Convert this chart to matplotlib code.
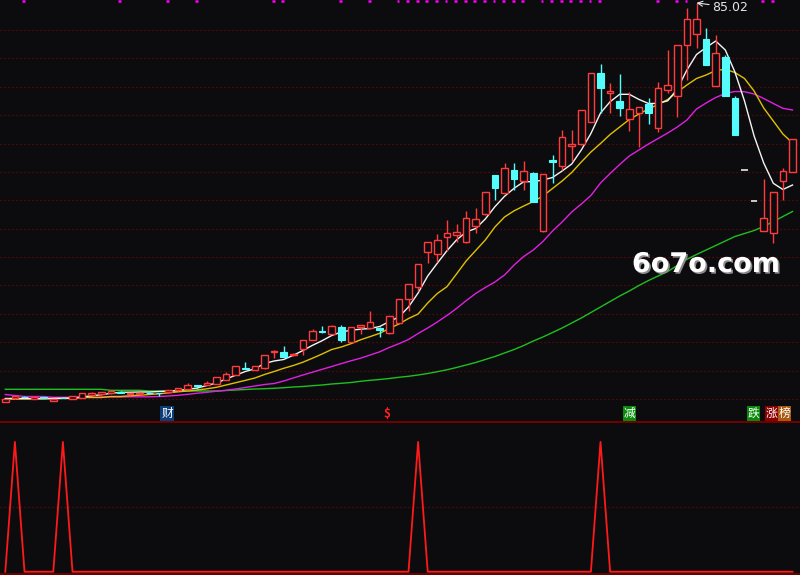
import numpy as np
import matplotlib
matplotlib.use("Agg")
import matplotlib.pyplot as plt
from matplotlib.lines import Line2D
import matplotlib.patheffects as pe

# ---------------- data ----------------
open_ = [5.26, 5.94, 6.28, 5.90, 6.20, 5.46, 6.10, 5.86, 6.06, 6.66,
         6.74, 6.94, 7.30, 6.74, 6.90, 7.10, 7.00, 7.20, 7.60, 7.86,
         8.56, 8.66, 8.86, 9.60, 10.66, 12.10, 11.70, 11.94, 15.14, 15.26,
         14.54, 15.86, 17.66, 19.34, 18.86, 20.20, 17.26, 20.26, 19.94, 20.06,
         18.94, 20.94, 25.74, 28.26, 35.14, 34.74, 38.14, 38.54, 37.14, 40.34,
         42.74, 50.54, 47.06, 51.60, 49.40, 50.94, 39.34, 53.60, 52.50, 56.46,
         56.74, 61.26, 71.06, 66.94, 65.40, 61.74, 62.94, 64.74, 59.94, 67.60,
         66.46, 76.54, 78.80, 77.80, 68.46, 74.14, 66.06, 51.54, 45.34, 39.46,
         38.94, 49.46, 51.26]
high = [5.80, 6.50, 6.35, 6.30, 6.25, 5.80, 6.20, 6.45, 7.05, 7.15,
        7.20, 7.50, 7.46, 7.00, 7.15, 7.20, 7.02, 7.60, 8.05, 8.94,
        8.60, 9.40, 10.20, 11.20, 12.40, 13.20, 12.40, 14.60, 15.60, 16.40,
        14.94, 17.60, 19.80, 20.40, 20.60, 20.60, 20.30, 20.65, 23.40, 20.26,
        22.45, 25.80, 28.80, 32.80, 37.25, 38.74, 41.60, 40.80, 43.34, 43.94,
        47.20, 50.60, 53.06, 53.06, 53.40, 51.20, 50.80, 54.60, 59.60, 59.60,
        63.65, 71.00, 72.80, 69.06, 70.80, 67.26, 64.30, 66.00, 69.14, 75.60,
        76.60, 84.00, 85.02, 79.94, 78.60, 74.60, 66.40, 51.54, 45.34, 49.80,
        47.20, 52.00, 57.80]
low = [5.20, 5.90, 6.05, 5.85, 5.95, 5.40, 5.95, 5.80, 6.00, 6.60,
       6.70, 6.90, 6.95, 6.70, 6.85, 6.90, 6.46, 7.00, 7.40, 7.80,
       7.74, 8.60, 8.80, 9.55, 10.60, 11.74, 11.65, 11.90, 14.06, 14.20,
       14.50, 14.54, 17.60, 18.94, 18.80, 17.26, 17.20, 18.74, 19.90, 18.26,
       18.90, 20.90, 23.46, 27.46, 32.94, 33.26, 35.40, 37.14, 37.10, 39.06,
       42.70, 45.60, 47.00, 47.60, 47.60, 45.20, 39.30, 49.06, 51.60, 53.40,
       56.70, 61.20, 62.94, 63.06, 62.40, 59.46, 56.26, 60.80, 59.26, 66.94,
       62.26, 69.60, 75.94, 72.55, 68.40, 66.35, 58.55, 51.54, 45.34, 39.40,
       37.06, 45.60, 51.20]
close = [5.80, 6.46, 6.12, 6.20, 6.00, 5.74, 6.00, 6.40, 7.00, 7.06,
         7.14, 7.46, 7.00, 6.94, 7.10, 6.94, 6.96, 7.54, 8.00, 8.60,
         8.50, 9.00, 10.14, 10.80, 12.34, 11.80, 12.34, 14.54, 15.40, 14.26,
         14.80, 17.54, 19.34, 19.14, 20.40, 17.60, 20.26, 20.60, 21.20, 19.60,
         22.40, 25.74, 28.74, 32.74, 37.20, 37.54, 38.94, 39.20, 41.94, 41.74,
         47.14, 48.00, 51.94, 49.80, 51.34, 45.26, 50.74, 53.26, 58.30, 56.80,
         63.60, 70.94, 68.06, 67.40, 64.06, 63.74, 64.26, 62.94, 67.94, 68.54,
         76.54, 81.80, 81.80, 72.60, 74.94, 66.40, 58.60, 51.54, 45.34, 41.94,
         47.14, 51.34, 57.74]

ma5 = [5.90, 5.90, 5.90, 5.90, 5.90, 5.90, 5.94, 6.00, 6.20, 6.44,
       6.66, 6.94, 7.14, 7.16, 7.20, 7.20, 7.30, 7.40, 7.50, 7.74,
       8.00, 8.50, 9.00, 9.80, 10.56, 11.30, 11.84, 12.90, 13.40, 13.70,
       14.54, 15.50, 16.54, 17.46, 18.50, 19.20, 19.56, 19.76, 19.90, 20.30,
       21.30, 22.20, 24.20, 27.00, 30.40, 32.96, 35.44, 37.60, 39.20, 39.90,
       41.80, 44.26, 46.34, 47.94, 49.26, 49.26, 49.60, 50.10, 51.40, 52.80,
       55.60, 58.90, 63.00, 65.26, 66.74, 66.74, 65.72, 64.90, 64.92, 65.44,
       67.80, 71.60, 74.70, 76.10, 77.40, 75.60, 71.20, 65.40, 58.40, 53.00,
       48.94, 47.70, 48.60]
ma10 = [5.80, 5.80, 5.80, 5.80, 5.80, 5.90, 5.90, 5.90, 6.10, 6.10,
        6.10, 6.30, 6.30, 6.44, 6.56, 6.70, 6.84, 7.04, 7.24, 7.40,
        7.60, 7.84, 8.14, 8.60, 9.06, 9.52, 10.00, 10.70, 11.30, 11.94,
        12.50, 13.16, 13.96, 14.80, 15.70, 16.20, 16.86, 17.64, 18.28, 18.94,
        19.90, 20.80, 21.90, 22.80, 25.00, 26.90, 28.26, 30.80, 33.40, 35.50,
        37.60, 40.20, 42.20, 43.44, 44.40, 45.30, 46.40, 47.90, 49.40, 51.10,
        53.20, 55.20, 56.90, 58.70, 60.20, 61.70, 62.80, 63.80, 64.70, 65.70,
        67.20, 68.60, 69.90, 70.60, 71.50, 71.74, 71.10, 69.90, 67.40, 64.00,
        61.40, 58.80, 57.00]
ma20 = [6.70, 6.50, 6.30, 6.30, 6.30, 6.14, 6.14, 6.14, 6.14, 6.14,
        6.20, 6.20, 6.20, 6.24, 6.24, 6.24, 6.30, 6.40, 6.54, 6.74,
        6.96, 7.14, 7.36, 7.54, 7.80, 8.10, 8.40, 8.70, 8.90, 9.40,
        10.00, 10.60, 11.16, 11.74, 12.30, 12.88, 13.44, 13.96, 14.60, 15.24,
        16.10, 16.86, 17.70, 18.90, 20.00, 21.20, 22.50, 23.90, 25.46, 26.90,
        28.10, 29.20, 30.60, 32.60, 34.30, 35.60, 37.30, 39.40, 41.20, 43.20,
        44.80, 46.50, 49.00, 50.90, 52.70, 54.40, 55.60, 56.80, 57.90, 59.00,
        60.20, 61.60, 63.80, 65.00, 66.10, 66.90, 67.30, 67.26, 66.80, 65.90,
        64.90, 63.94, 63.60]
ma60 = [7.74, 7.74, 7.74, 7.74, 7.74, 7.74, 7.74, 7.74, 7.74, 7.74,
        7.74, 7.54, 7.54, 7.54, 7.54, 7.40, 7.40, 7.40, 7.40, 7.40,
        7.40, 7.40, 7.40, 7.50, 7.60, 7.70, 7.80, 7.86, 7.94, 8.06,
        8.20, 8.30, 8.46, 8.60, 8.80, 8.94, 9.10, 9.34, 9.54, 9.70,
        9.90, 10.14, 10.34, 10.60, 10.90, 11.26, 11.64, 12.10, 12.60, 13.10,
        13.70, 14.30, 15.00, 15.70, 16.50, 17.40, 18.20, 19.10, 20.00, 21.00,
        22.00, 23.10, 24.20, 25.30, 26.40, 27.40, 28.50, 29.50, 30.40, 31.30,
        32.50, 33.74, 34.70, 35.60, 36.50, 37.40, 38.30, 38.90, 39.50, 40.30,
        41.30, 42.30, 43.30]

signal_bars = [1, 6, 43, 62]          # bars where the lower indicator fires
signal_value = 100
top_mark_bars = [2, 12, 17, 20, 28, 29, 35, 38, 41,
                 42, 43, 44, 45, 46, 47, 48, 49, 50, 51, 52, 53, 54,
                 56, 57, 58, 59, 60, 61, 62, 68, 70, 71, 79, 80]
tag_text = ["财", "$", "减", "跌", "涨", "榜"]
tag_bar = [16.85, 39.8, 65.0, 77.95, 79.85, 81.17]
tag_bg = ["#0d3d78", None, "#0a8a0a", "#0a8a0a", "#8c0000", "#a85a10"]
tag_fg = ["white", "#ff2020", "white", "white", "white", "white"]
peak_label = "85.02"
watermark = "6o7o.com"

# ---------------- style ----------------
BG = "#0c0c0f"
RED = "#ff3b3b"
CYAN = "#54fcfc"
GRID = "#6e0a0a"
DARKRED = "#7a0000"

n = len(close)
x = np.arange(n)
o = np.array(open_); h = np.array(high); l = np.array(low); c = np.array(close)

fig = plt.figure(figsize=(8, 5.75), dpi=100, facecolor=BG)
H_PX = 575.0
ax = fig.add_axes([0, 1 - 422 / H_PX, 1, 422 / H_PX])
axb = fig.add_axes([0, 0, 1, 152 / H_PX])
for a in (ax, axb):
    a.set_facecolor(BG)
    a.set_xticks([]); a.set_yticks([])
    for s in a.spines.values():
        s.set_visible(False)
    a.set_xlim(-0.552, 82.78)

ax.set_ylim(1.2, 85.6)
axb.set_ylim(-2.54, 114.6)

# grid lines (dotted dark red)
for g in np.linspace(79.6, 79.6 - 13 * 5.677, 14):
    ax.axhline(g, color=GRID, lw=0.9, ls=(0, (1, 2.2)), zorder=0)
axb.axhline(50, color=GRID, lw=0.9, ls=(0, (1, 2.2)), zorder=0)

# moving averages
ax.plot(x, ma60, color="#1fbf1f", lw=1.0, zorder=2)
ax.plot(x, ma20, color="#e020e0", lw=1.0, zorder=2)
ax.plot(x, ma10, color="#e0c000", lw=1.0, zorder=2)
ax.plot(x, ma5, color="#f4f4f4", lw=1.0, zorder=2)

# candles
W = 0.7
up = c > o
down = c < o
flat = c == o
xd = x[down]
ax.vlines(xd, l[down], h[down], color=CYAN, lw=1.0, zorder=3)
ax.bar(xd, (o - c)[down], bottom=c[down], width=W, color=CYAN,
       edgecolor=CYAN, lw=0.8, zorder=4)
xu = x[up]
ax.vlines(xu, c[up], h[up], color=RED, lw=1.0, zorder=3)
ax.vlines(xu, l[up], o[up], color=RED, lw=1.0, zorder=3)
ax.bar(xu, (c - o)[up], bottom=o[up], width=W, facecolor=BG,
       edgecolor=RED, lw=1.0, zorder=4)
ax.hlines(c[flat], x[flat] - W / 2, x[flat] + W / 2, color="#e8e8e8",
          lw=1.2, zorder=4)

# magenta marks on top edge
for b in top_mark_bars:
    ax.hlines(85.5, b - 0.25, b + 0.05, color="#ff00ff", lw=1.8, zorder=5)

# peak label with arrow
ipk = int(np.argmax(h))
ax.annotate(peak_label, xy=(ipk, h[ipk]), xytext=(ipk + 1.6, h[ipk] - 0.9),
            color="#e6e6e6", fontsize=9, va="center", ha="left",
            family="DejaVu Sans",
            arrowprops=dict(arrowstyle="->", color="#e6e6e6", lw=0.8,
                            shrinkA=0, shrinkB=0))

# tags
for t, b, bg, fg in zip(tag_text, tag_bar, tag_bg, tag_fg):
    kw = {}
    if bg is not None:
        kw["bbox"] = dict(boxstyle="square,pad=0.06", fc=bg, ec="none")
    ax.text(b, 2.9, t, color=fg, fontsize=8.5, ha="center", va="center",
            family=["Noto Sans CJK SC", "DejaVu Sans"],
            fontweight="bold" if t == "$" else "normal", zorder=6, **kw)

# watermark
ax.text(73.0, 32.6, watermark, color="white", fontsize=19.5,
        fontweight="bold", ha="center", va="center", family="DejaVu Sans",
        zorder=7,
        path_effects=[pe.withSimplePatchShadow(offset=(1.2, -1.2),
                                               shadow_rgbFace="#8a8a8a",
                                               alpha=1.0)])

# lower indicator
sig = np.zeros(n)
sig[signal_bars] = signal_value
axb.plot(x, sig, color="#ff1a1a", lw=1.3, zorder=3)
axb.axhline(-1.8, color=DARKRED, lw=1.2, zorder=2)

# separator line
fig.add_artist(Line2D([0, 1], [1 - 422.3 / H_PX] * 2, color=DARKRED, lw=1.3))

fig.savefig("out.png", dpi=100, facecolor=BG)
